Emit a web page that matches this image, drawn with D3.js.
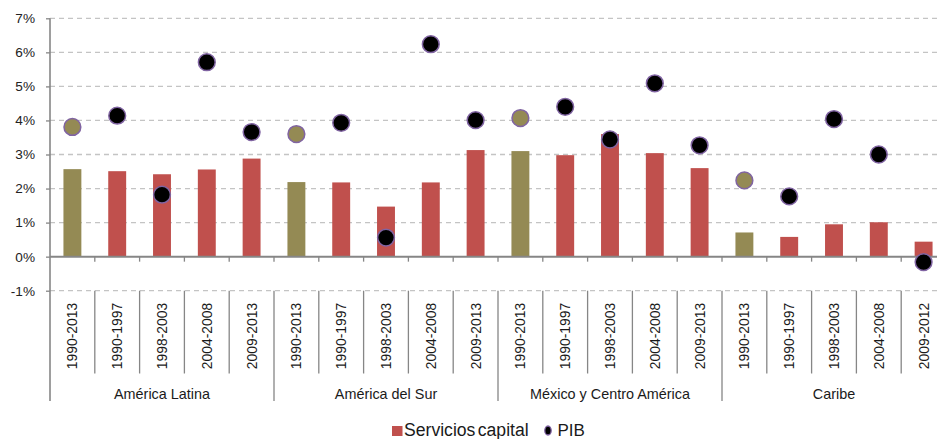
<!DOCTYPE html>
<html>
<head>
<meta charset="utf-8">
<script src="https://cdn.jsdelivr.net/npm/d3@7"></script>
<style>
  html, body { margin: 0; padding: 0; background: #ffffff; }
  svg { display: block; font-family: "Liberation Sans", Arial, sans-serif; }
</style>
</head>
<body>
<svg id="chart" width="937" height="439"></svg>
<script>
// Regions and the periods shown under each of them
const regions = ["América Latina", "América del Sur", "México y Centro América", "Caribe"];
const periods = [
  ["1990-2013", "1990-1997", "1998-2003", "2004-2008", "2009-2013"],
  ["1990-2013", "1990-1997", "1998-2003", "2004-2008", "2009-2013"],
  ["1990-2013", "1990-1997", "1998-2003", "2004-2008", "2009-2013"],
  ["1990-2013", "1990-1997", "1998-2003", "2004-2008", "2009-2012"]
];
// Growth of capital services (bars) and GDP (dots), percent per year
const servicios = [2.57, 2.51, 2.42, 2.56, 2.88,
                   2.19, 2.18, 1.47, 2.18, 3.13,
                   3.10, 2.98, 3.60, 3.04, 2.60,
                   0.71, 0.58, 0.95, 1.01, 0.44];
const pib = [3.81, 4.14, 1.82, 5.71, 3.66,
             3.60, 3.93, 0.56, 6.24, 4.01,
             4.07, 4.40, 3.44, 5.09, 3.27,
             2.24, 1.77, 4.04, 3.00, -0.16];
const yTicks = [-1, 0, 1, 2, 3, 4, 5, 6, 7];
const legendLabels = ["Servicios capital", "PIB"];

const RED = "#c0504d", OLIVE = "#948a54", DOT_STROKE = "#8064a2", AXIS = "#868686", GRID = "#c4c4c4";

// Flatten into one row per category
const rows = [];
regions.forEach((r, gi) => periods[gi].forEach((p, pi) => {
  const i = rows.length;
  rows.push({ i, region: r, gi, pi, period: p, serv: servicios[i], pib: pib[i], whole: pi === 0 });
}));

const svg = d3.select("#chart");
const left = 50, right = 946;
const x = d3.scaleBand().domain(rows.map(d => d.i)).range([left, right])
  .paddingInner(0.6).paddingOuter(0.3);
const step = x.step();
const y = d3.scaleLinear().domain([-1, 7]).range([290.7, 18.3]);

// Dashed horizontal gridlines
svg.append("g").selectAll("line").data(yTicks.filter(t => t !== 0)).join("line")
  .attr("x1", left).attr("x2", right)
  .attr("y1", d => y(d)).attr("y2", d => y(d))
  .attr("stroke", GRID).attr("stroke-width", 1.3).attr("stroke-dasharray", "5,4");

// Y axis
const yAxis = d3.axisLeft(y).tickValues(yTicks).tickSize(4).tickFormat(d => d + "%");
const gy = svg.append("g").attr("transform", `translate(${left},0)`).call(yAxis);
gy.select(".domain").remove();
gy.selectAll(".tick line").attr("stroke", AXIS).attr("stroke-width", 1.3);
gy.selectAll(".tick text").attr("x", -15).attr("fill", "#222")
  .style("font-size", "13.6px").style("font-family", "'Liberation Sans', Arial, sans-serif");
svg.append("line").attr("x1", left).attr("x2", left).attr("y1", y(7)).attr("y2", 401)
  .attr("stroke", AXIS).attr("stroke-width", 1.6);

// Bars
svg.append("g").selectAll("rect").data(rows).join("rect")
  .attr("x", d => x(d.i))
  .attr("width", x.bandwidth())
  .attr("y", d => y(Math.max(0, d.serv)))
  .attr("height", d => Math.abs(y(d.serv) - y(0)))
  .attr("fill", d => d.whole ? OLIVE : RED);

// Zero line with category ticks
svg.append("line").attr("x1", left).attr("x2", right).attr("y1", y(0)).attr("y2", y(0))
  .attr("stroke", AXIS).attr("stroke-width", 2);
svg.append("g").selectAll("line").data(rows.slice(1)).join("line")
  .attr("x1", d => x(d.i) - step * 0.3).attr("x2", d => x(d.i) - step * 0.3)
  .attr("y1", y(0)).attr("y2", y(0) + 5)
  .attr("stroke", AXIS).attr("stroke-width", 1.3);

// Category separators below the -1% line
svg.append("g").selectAll("line").data(rows.slice(1)).join("line")
  .attr("x1", d => x(d.i) - step * 0.3).attr("x2", d => x(d.i) - step * 0.3)
  .attr("y1", y(-1)).attr("y2", d => d.pi === 0 ? 401 : 373.5)
  .attr("stroke", AXIS).attr("stroke-width", 1.3);

// Period labels
svg.append("g").selectAll("text").data(rows).join("text")
  .attr("transform", d => `translate(${x(d.i) + x.bandwidth() / 2},336) rotate(-90)`)
  .attr("text-anchor", "middle").attr("dominant-baseline", "central")
  .attr("fill", "#1a1a1a").style("font-size", "13.9px")
  .text(d => d.period);

// Region labels
svg.append("g").selectAll("text").data(regions).join("text")
  .attr("x", (d, gi) => {
    const g = rows.filter(r => r.gi === gi);
    return (x(g[0].i) - step * 0.3 + x(g[g.length - 1].i) + x.bandwidth() + step * 0.3) / 2;
  })
  .attr("y", 399).attr("text-anchor", "middle")
  .attr("fill", "#1a1a1a").style("font-size", "14.4px")
  .text(d => d);

// GDP dots
svg.append("g").selectAll("circle").data(rows).join("circle")
  .attr("cx", d => x(d.i) + x.bandwidth() / 2)
  .attr("cy", d => y(d.pib))
  .attr("r", 8.4)
  .attr("fill", d => d.whole ? OLIVE : "#000")
  .attr("stroke", DOT_STROKE).attr("stroke-width", 1.5);

// Legend
const lg = svg.append("g");
lg.append("rect").attr("x", 392).attr("y", 426).attr("width", 10.5).attr("height", 10).attr("fill", RED);
lg.append("text").attr("x", 404).attr("y", 436).attr("fill", "#1a1a1a")
  .style("font-size", "17.6px").style("word-spacing", "-2.5px").text(legendLabels[0]);
lg.append("ellipse").attr("cx", 548).attr("cy", 430.5).attr("rx", 3.2).attr("ry", 4.5)
  .attr("fill", "#000").attr("stroke", DOT_STROKE).attr("stroke-width", 1.3);
lg.append("text").attr("x", 557.5).attr("y", 436).attr("fill", "#1a1a1a")
  .style("font-size", "17px").text(legendLabels[1]);
</script>
</body>
</html>
